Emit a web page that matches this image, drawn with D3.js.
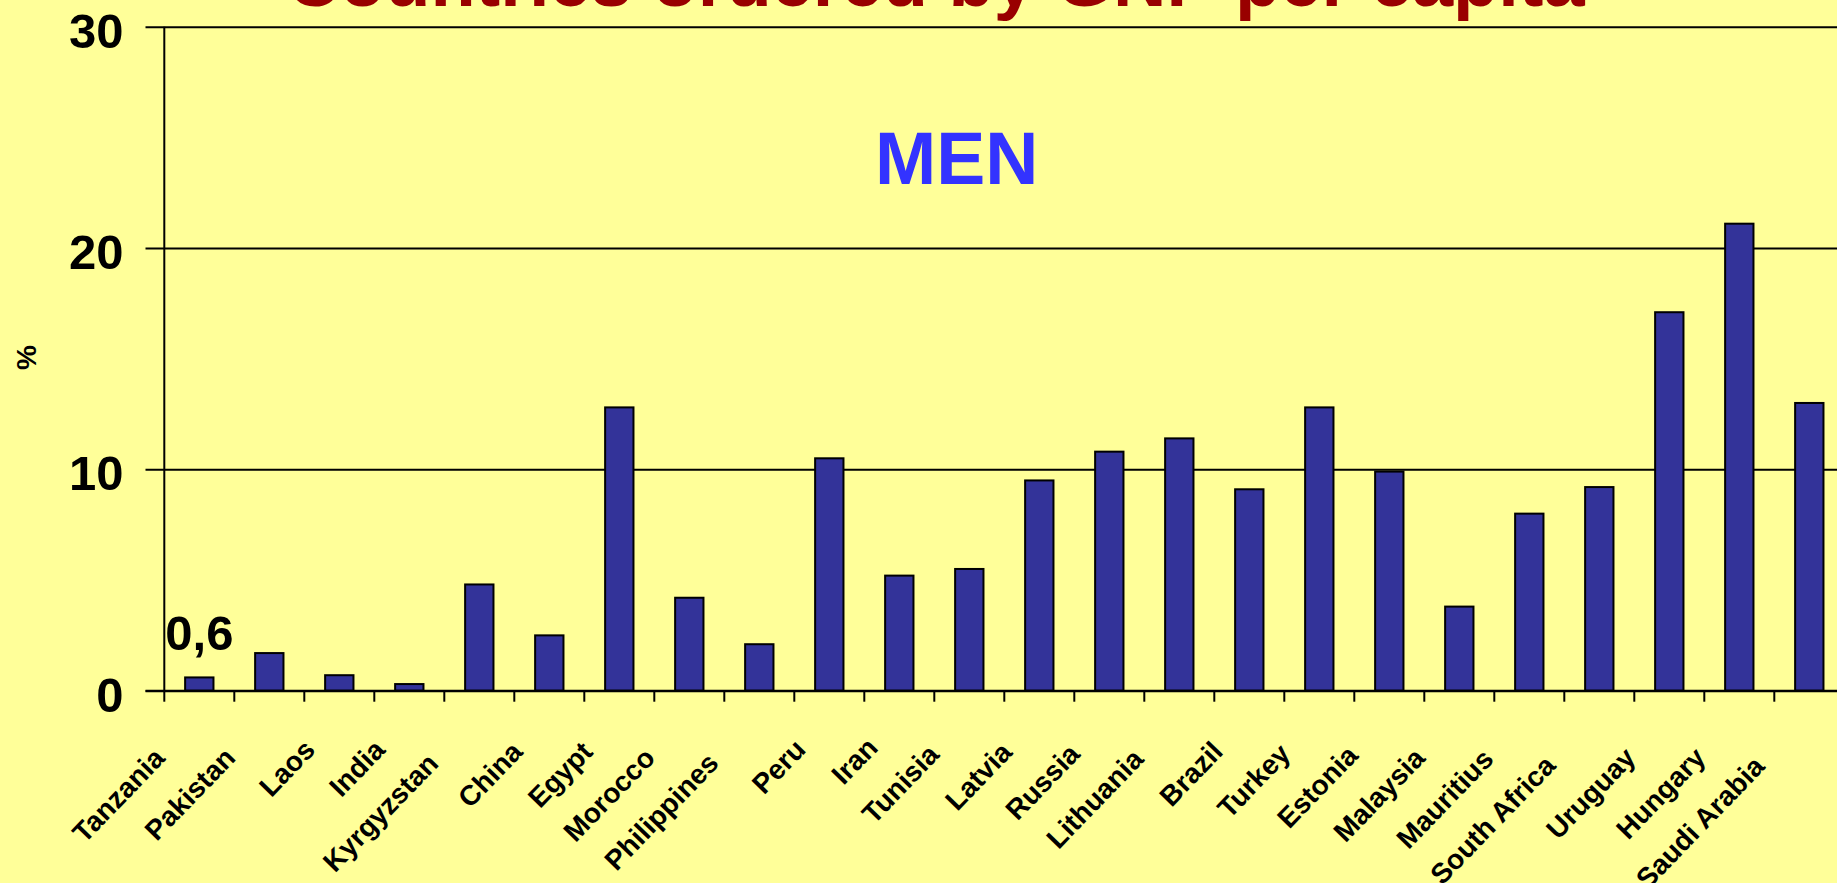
<!DOCTYPE html>
<html>
<head>
<meta charset="utf-8">
<script src="https://cdnjs.cloudflare.com/ajax/libs/d3/7.8.5/d3.min.js"></script>
<style>
  html, body { margin: 0; padding: 0; background: #FFFF99; overflow: hidden; }
  svg { display: block; }
  text { font-family: "Liberation Sans", Arial, Helvetica, sans-serif; font-weight: bold; }
</style>
</head>
<body>
<script>
// Countries, ordered by GNP per capita
const countries = ["Tanzania", "Pakistan", "Laos", "India", "Kyrgyzstan", "China", "Egypt",
  "Morocco", "Philippines", "Peru", "Iran", "Tunisia", "Latvia", "Russia", "Lithuania",
  "Brazil", "Turkey", "Estonia", "Malaysia", "Mauritius", "South Africa", "Uruguay",
  "Hungary", "Saudi Arabia"];
// Share of men (%)
const menPct = [0.6, 1.7, 0.7, 0.3, 4.8, 2.5, 12.8, 4.2, 2.1, 10.5, 5.2, 5.5, 9.5, 10.8,
  11.4, 9.1, 12.8, 9.9, 3.8, 8.0, 9.2, 17.1, 21.1, 13.0];
const yTicks = [0, 10, 20, 30];
const titleText = "Countries ordered by GNP per capita";
const panelText = "MEN";
const yLabelText = "%";
const annotated = ["Tanzania"];

const W = 1837, H = 883;
const data = countries.map((c, i) => ({ country: c, value: menPct[i] }));

const svg = d3.select("body").append("svg")
  .attr("width", W).attr("height", H);

svg.append("rect").attr("width", W).attr("height", H).attr("fill", "#FFFF99");

const x0 = 164.3, step = 70;
const plotRight = x0 + step * countries.length;

const x = d3.scaleBand()
  .domain(countries)
  .range([x0, plotRight])
  .paddingInner(0.595)
  .paddingOuter(0.2975);

const y = d3.scaleLinear().domain([0, 30]).range([690.7, 26.7]);

// Horizontal gridlines with outward ticks and value labels
const yAxis = svg.append("g")
  .attr("transform", `translate(${x0},0)`)
  .call(d3.axisLeft(y).tickValues(yTicks).tickSizeOuter(0).tickSizeInner(0).tickFormat(d3.format("d")));
yAxis.select(".domain").remove();
yAxis.selectAll(".tick line")
  .attr("x1", -18.8).attr("x2", plotRight - x0)
  .attr("stroke", "#000").attr("stroke-width", 2);
yAxis.selectAll(".tick text")
  .attr("x", 123.5 - x0).attr("dy", null).attr("y", 20.5)
  .attr("font-size", 49).attr("fill", "#000")
  .attr("font-family", null).attr("text-anchor", "end");

// Bars
svg.append("g").selectAll("rect")
  .data(data)
  .join("rect")
  .attr("x", d => x(d.country))
  .attr("width", x.bandwidth())
  .attr("y", d => y(d.value))
  .attr("height", d => y(0) - y(d.value))
  .attr("fill", "#333399")
  .attr("stroke", "#000")
  .attr("stroke-width", 2);

// Vertical axis line
svg.append("line")
  .attr("x1", x0).attr("x2", x0)
  .attr("y1", y(30)).attr("y2", y(0))
  .attr("stroke", "#000").attr("stroke-width", 2);

// Horizontal axis line and category boundary ticks
svg.append("line")
  .attr("x1", x0 - 18.8).attr("x2", plotRight)
  .attr("y1", y(0)).attr("y2", y(0))
  .attr("stroke", "#000").attr("stroke-width", 2);
svg.append("g").selectAll("line")
  .data(d3.range(countries.length + 1))
  .join("line")
  .attr("x1", i => x0 + i * x.step()).attr("x2", i => x0 + i * x.step())
  .attr("y1", y(0)).attr("y2", y(0) + 11)
  .attr("stroke", "#000").attr("stroke-width", 2);

// Rotated category labels
const labelSize = 28;
const labels = svg.append("g").selectAll("text")
  .data(data)
  .join("text")
  .attr("font-size", labelSize)
  .attr("fill", "#000")
  .attr("text-anchor", "end")
  .text(d => d.country);
labels.attr("transform", function (d) {
  const L = this.getComputedTextLength() * 26 / labelSize;
  const cx = x(d.country) + x.bandwidth() / 2;
  const ex = cx - 10 - 0.21 * L;
  const ey = 741 + 0.17 * L;
  return `translate(${ex},${ey}) rotate(-46)`;
});

// Value annotation
svg.append("g").selectAll("text")
  .data(data.filter(d => annotated.includes(d.country)))
  .join("text")
  .attr("x", x0 + 1)
  .attr("y", d => y(d.value) - 27.4)
  .attr("font-size", 49)
  .attr("fill", "#000")
  .text(d => String(d.value).replace(".", ","));

// Axis unit
svg.append("text")
  .attr("transform", "translate(36,357.5) rotate(-90)")
  .attr("text-anchor", "middle")
  .attr("font-size", 28)
  .attr("fill", "#000")
  .text(yLabelText);

// Panel label
svg.append("text")
  .attr("x", 956.7).attr("y", 184.3)
  .attr("text-anchor", "middle")
  .attr("font-size", 73.5)
  .attr("fill", "#3333FF")
  .text(panelText);

// Title
svg.append("text")
  .attr("x", 935.6).attr("y", 6)
  .attr("text-anchor", "middle")
  .attr("font-size", 74)
  .attr("fill", "#990000")
  .text(titleText);
</script>
</body>
</html>
